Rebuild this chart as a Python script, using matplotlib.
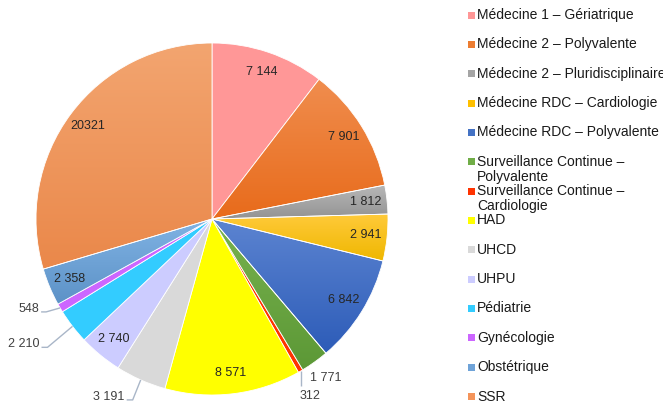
import numpy as np
import matplotlib
matplotlib.use("Agg")
import matplotlib.pyplot as plt
from matplotlib import font_manager
from matplotlib.colors import to_rgb

categories = [
    "Médecine 1 – Gériatrique",
    "Médecine 2 – Polyvalente",
    "Médecine 2 – Pluridisciplinaire",
    "Médecine RDC – Cardiologie",
    "Médecine RDC – Polyvalente",
    "Surveillance Continue –\nPolyvalente",
    "Surveillance Continue –\nCardiologie",
    "HAD",
    "UHCD",
    "UHPU",
    "Pédiatrie",
    "Gynécologie",
    "Obstétrique",
    "SSR",
]
values = [7144, 7901, 1812, 2941, 6842, 1771, 312, 8571, 3191, 2740, 2210, 548, 2358, 20321]
value_labels = ["7 144", "7 901", "1 812", "2 941", "6 842", "1 771", "312",
                "8 571", "3 191", "2 740", "2 210", "548", "2 358", "20321"]

# (top colour, bottom colour) -> vertical gradient per wedge
colors = [
    ("#FF9797", "#FF9797"),
    ("#F08D4E", "#E86B1B"),
    ("#B7B7B7", "#939393"),
    ("#FFCA3A", "#EFB700"),
    ("#5C84D1", "#2D5CB8"),
    ("#78B24E", "#5C9836"),
    ("#FF3300", "#FF3300"),
    ("#FFFF00", "#FFFF00"),
    ("#D9D9D9", "#D9D9D9"),
    ("#CCCCFF", "#CCCCFF"),
    ("#33CCFF", "#33CCFF"),
    ("#CC66FF", "#CC66FF"),
    ("#80B3E4", "#5D92C7"),
    ("#F3A570", "#EA884A"),
]
legend_colors = ["#FF9797", "#ED7D31", "#A5A5A5", "#FFC000", "#4472C4", "#70AD47",
                 "#FF3300", "#FFFF00", "#D9D9D9", "#CCCCFF", "#33CCFF", "#CC66FF",
                 "#6FA3D8", "#F4945A"]

W, H = 663, 403
CX, CY, R = 212, 219, 176

available = {f.name for f in font_manager.fontManager.ttflist}
if "Liberation Sans Narrow" in available:
    label_font = "Liberation Sans Narrow"
    label_size = 10.5
else:
    label_font = "Liberation Sans"
    label_size = 9.0
legend_font = "Liberation Sans"

fig = plt.figure(figsize=(W / 100, H / 100), dpi=100)
ax = fig.add_axes([0, 0, 1, 1])


def P(px, py):
    return ((px - CX) / R, (CY - py) / R)


wedges, _ = ax.pie(values, startangle=90, counterclock=False, radius=1,
                   colors=[c[0] for c in colors],
                   wedgeprops=dict(edgecolor="white", linewidth=0.6))

ax.set_xlim(P(0, 0)[0], P(W, 0)[0])
ax.set_ylim(P(0, H)[1], P(0, 0)[1])
ax.set_aspect("equal")
ax.axis("off")

# gradients
for w, (ctop, cbot) in zip(wedges, colors):
    if ctop == cbot:
        continue
    ext = w.get_path().get_extents()
    t = np.linspace(0, 1, 100)[:, None]
    a, b = np.array(to_rgb(ctop)), np.array(to_rgb(cbot))
    img = (a[None, None, :] * (1 - t[..., None]) + b[None, None, :] * t[..., None])
    img = np.repeat(img, 2, axis=1)
    im = ax.imshow(img, extent=(ext.x0, ext.x1, ext.y0, ext.y1), origin="upper",
                   aspect="auto", zorder=1, interpolation="bilinear")
    im.set_clip_path(w)
    w.set_facecolor("none")
    w.set_zorder(2)
ax.set_xlim(P(0, 0)[0], P(W, 0)[0])
ax.set_ylim(P(0, H)[1], P(0, 0)[1])

# value labels
total = sum(values)
cum = np.cumsum([0] + values[:-1])
mids = [np.deg2rad(90 - 360 * (c + v / 2) / total) for c, v in zip(cum, values)]

outside_leader = {  # index: (elbow dx, elbow dy, horizontal length) in px
    6: (0, 15, 0),
    8: (-8, 20, -6),
    10: (-25, 21, -6),
    11: (-14, 4, -5),
}
line_col = "#A9B6C8"
for i, (lab, ang) in enumerate(zip(value_labels, mids)):
    if i in outside_leader:
        ex, ey = CX + R * np.cos(ang), CY - R * np.sin(ang)
        dx, dy, hl = outside_leader[i]
        bx, by = ex + dx, ey + dy
        cx_ = bx + hl
        xs = [P(ex, ey)[0], P(bx, by)[0], P(cx_, by)[0]]
        ys = [P(ex, ey)[1], P(bx, by)[1], P(cx_, by)[1]]
        ax.plot(xs, ys, color=line_col, lw=1, zorder=3, solid_capstyle="butt")
        if hl == 0:
            tx, ty = P(bx - 1, by + 10)
            ax.text(tx, ty, lab, ha="left", va="center", fontsize=label_size,
                    family=label_font, color="#404040", zorder=4)
        else:
            tx, ty = P(cx_ - 2, by - 3)
            ax.text(tx, ty, lab, ha="right", va="center", fontsize=label_size,
                    family=label_font, color="#404040", zorder=4)
    elif i == 5:
        d = 1.11
        ax.text(d * np.cos(ang), d * np.sin(ang), lab, ha="center", va="center",
                fontsize=label_size, family=label_font, color="#404040", zorder=4)
    else:
        d = 0.88
        ax.text(d * np.cos(ang), d * np.sin(ang), lab, ha="center", va="center",
                fontsize=label_size, family=label_font, color="#262626", zorder=4)

# legend (manual)
y0, step = 15, 29.35
for i, (name, col) in enumerate(zip(categories, legend_colors)):
    yc = y0 + i * step
    sx0, sy0 = P(468, yc + 3.5)
    sx1, sy1 = P(474.5, yc - 3.5)
    ax.add_patch(plt.Rectangle((sx0, sy0), sx1 - sx0, sy1 - sy0, facecolor=col,
                               edgecolor="none", zorder=3, clip_on=False))
    for j, line in enumerate(name.split("\n")):
        tx, ty = P(477, yc + j * 15)
        ax.text(tx, ty, line, ha="left", va="center", fontsize=10,
                family=legend_font, color="#1A1A1A", zorder=4)

fig.savefig("out.png", dpi=100)
